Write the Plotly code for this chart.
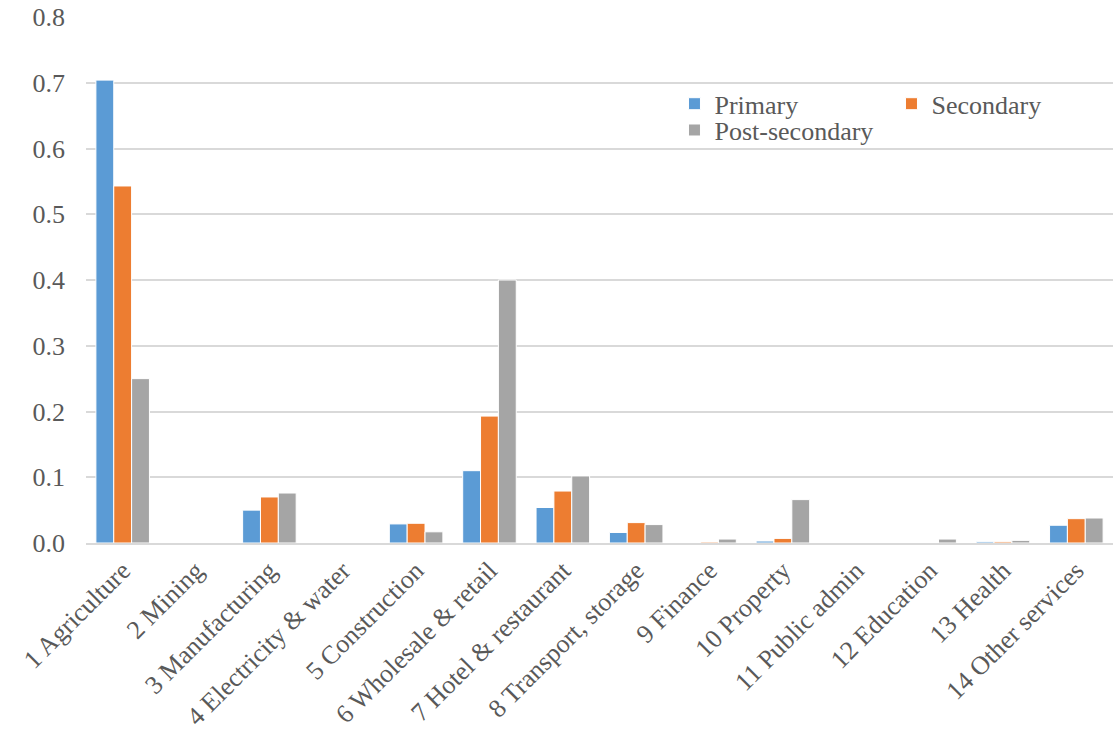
import plotly.graph_objects as go

categories = [
    "1 Agriculture", "2 Mining", "3 Manufacturing", "4 Electricity & water",
    "5 Construction", "6 Wholesale & retail", "7 Hotel & restaurant",
    "8 Transport, storage", "9 Finance", "10 Property", "11 Public admin",
    "12 Education", "13 Health", "14 Other services",
]
primary = [0.704, 0.0, 0.050, 0.0, 0.029, 0.110, 0.054, 0.016, 0.0, 0.003, 0.0, 0.0, 0.002, 0.027]
secondary = [0.543, 0.0, 0.070, 0.0, 0.030, 0.193, 0.079, 0.031, 0.0015, 0.007, 0.0, 0.0, 0.002, 0.037]
post_secondary = [0.250, 0.0, 0.076, 0.0, 0.017, 0.400, 0.102, 0.028, 0.006, 0.066, 0.0, 0.006, 0.004, 0.038]

series = [
    ("Primary", primary, "#5B9BD5", "legend"),
    ("Secondary", secondary, "#ED7D31", "legend"),
    ("Post-secondary", post_secondary, "#A5A5A5", "legend2"),
]

font_family = "Liberation Serif"
text_color = "#595959"
legend_font = dict(family=font_family, size=26, color=text_color)

fig = go.Figure()
for name, vals, color, leg in series:
    fig.add_trace(go.Bar(
        name=name, x=categories, y=vals, legend=leg,
        marker=dict(color=color, line=dict(color="white", width=1)),
    ))

fig.update_layout(
    width=1114, height=733,
    margin=dict(l=86, r=1, t=17, b=190),
    plot_bgcolor="white", paper_bgcolor="white",
    barmode="group", bargap=0.27, bargroupgap=0.0,
    font=dict(family=font_family, size=26, color=text_color),
    showlegend=True,
    legend=dict(
        orientation="h", x=0.573, y=0.835, xanchor="left", yanchor="middle",
        entrywidth=172, entrywidthmode="pixels", itemwidth=30,
        font=legend_font, bgcolor="rgba(0,0,0,0)",
    ),
    legend2=dict(
        orientation="h", x=0.573, y=0.785, xanchor="left", yanchor="middle",
        itemwidth=30, font=legend_font, bgcolor="rgba(0,0,0,0)",
    ),
)
fig.update_xaxes(
    tickangle=-45, showgrid=False, showline=True, linecolor="#D9D9D9", linewidth=2,
    ticks="", tickfont=dict(family=font_family, size=26, color=text_color),
)
fig.update_yaxes(
    range=[0, 0.8], dtick=0.1, tickformat=".1f",
    showgrid=True, gridcolor="#D9D9D9", gridwidth=2, zeroline=False,
    showline=False, ticks="", ticklabelstandoff=20,
    tickfont=dict(family=font_family, size=26, color=text_color),
)

fig.write_html("out.html")
